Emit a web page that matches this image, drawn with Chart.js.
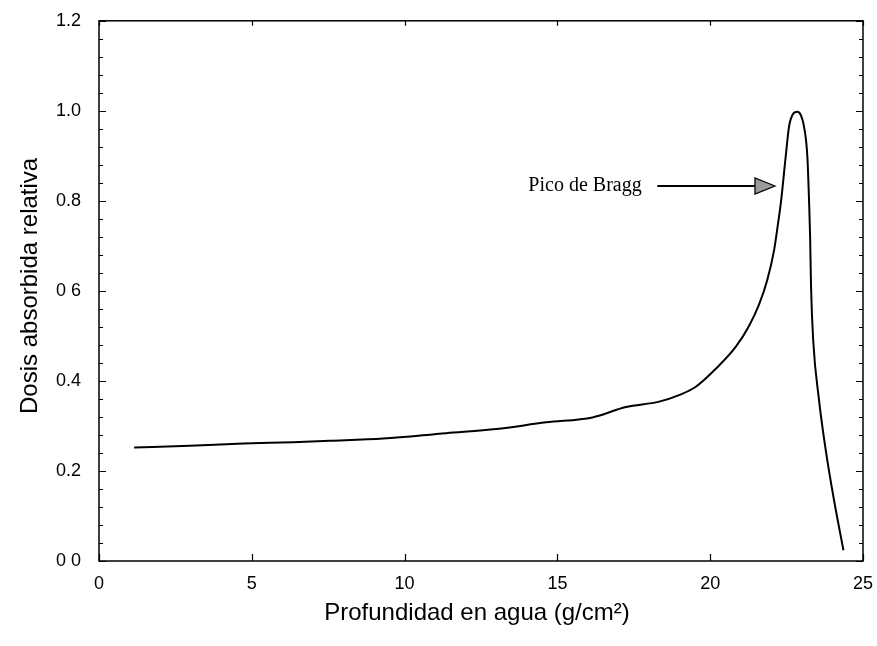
<!DOCTYPE html>
<html>
<head>
<meta charset="utf-8">
<script src="https://cdn.jsdelivr.net/npm/chart.js@4/dist/chart.umd.min.js"></script>
<style>
html,body{margin:0;padding:0;background:#fff;}
#wrap{width:877px;height:646px;position:relative;}
</style>
</head>
<body>
<div id="wrap"><canvas id="c" width="877" height="646"></canvas></div>
<script>
// ---- data ----
const depth = [1.15, 2.97, 4.72, 6.35, 7.55, 9.3, 11.36, 13.0, 14.63, 16.15, 17.24, 18.33, 19.0, 19.53, 20.2, 20.84, 21.27, 21.6, 21.87, 22.09, 22.2, 22.32, 22.47, 22.58, 22.7, 22.85, 22.97, 23.07, 23.18, 23.24, 23.27, 23.30, 23.37, 23.56, 23.78, 24.05, 24.36];
const dose  = [0.252, 0.256, 0.261, 0.264, 0.267, 0.272, 0.284, 0.293, 0.308, 0.319, 0.342, 0.354, 0.369, 0.387, 0.428, 0.476, 0.522, 0.570, 0.625, 0.690, 0.740, 0.800, 0.898, 0.965, 0.992, 0.998, 0.990, 0.965, 0.898, 0.790, 0.720, 0.609, 0.491, 0.358, 0.247, 0.136, 0.024];
const yTickLabels = ["0 0", "0.2", "0.4", "0 6", "0.8", "1.0", "1.2"];
const xTickLabels = ["0", "5", "10", "15", "20", "25"];
const xTitle = "Profundidad en agua (g/cm²)";
const yTitle = "Dosis absorbida relativa";
const annText = "Pico de Bragg";
const annTextPos = [14.05, 0.833];   // data coords of text left / middle
const annArrow = [18.27, 22.12, 0.833]; // x start, x end, y

const points = depth.map((d, i) => ({x: d, y: dose[i]}));

const frame = {
  id: 'frame',
  afterDraw(chart) {
    const ctx = chart.ctx;
    const xs = chart.scales.x, ys = chart.scales.y;
    const a = chart.chartArea;
    ctx.save();
    ctx.strokeStyle = '#000';
    ctx.lineWidth = 1.5;
    ctx.strokeRect(a.left, a.top, a.right - a.left, a.bottom - a.top);
    ctx.lineWidth = 1.2;
    // y ticks (major every 0.2, minor every 0.04)
    for (let k = 0; k <= 30; k++) {
      const v = k * 0.04;
      const py = Math.round(ys.getPixelForValue(v)) + 0.5;
      const len = (k % 5 === 0) ? 7 : 4;
      ctx.beginPath();
      ctx.moveTo(a.left, py); ctx.lineTo(a.left + len, py);
      ctx.moveTo(a.right, py); ctx.lineTo(a.right - len, py);
      ctx.stroke();
    }
    // x ticks (major every 5)
    for (let k = 0; k <= 25; k += 5) {
      const px = Math.round(xs.getPixelForValue(k)) + 0.5;
      ctx.beginPath();
      ctx.moveTo(px, a.bottom); ctx.lineTo(px, a.bottom - 7);
      ctx.moveTo(px, a.top); ctx.lineTo(px, a.top + 5);
      ctx.stroke();
    }
    // axis titles
    ctx.fillStyle = '#000';
    ctx.font = '24px "Liberation Sans", Arial, sans-serif';
    ctx.textAlign = 'center';
    ctx.textBaseline = 'middle';
    ctx.fillText(xTitle, (a.left + a.right) / 2 - 4, 613);
    ctx.save();
    ctx.translate(30, (a.top + a.bottom) / 2 - 5);
    ctx.rotate(-Math.PI / 2);
    ctx.fillText(yTitle, 0, 0);
    ctx.restore();
    // annotation
    ctx.font = '20px "Liberation Serif", "Times New Roman", serif';
    ctx.textAlign = 'left';
    ctx.fillText(annText, xs.getPixelForValue(annTextPos[0]), ys.getPixelForValue(annTextPos[1]));
    const ay = ys.getPixelForValue(annArrow[2]);
    const x0 = xs.getPixelForValue(annArrow[0]);
    const x1 = xs.getPixelForValue(annArrow[1]);
    ctx.lineWidth = 2;
    ctx.beginPath();
    ctx.moveTo(x0, ay); ctx.lineTo(x1 - 18, ay);
    ctx.stroke();
    ctx.beginPath();
    ctx.moveTo(x1, ay);
    ctx.lineTo(x1 - 20, ay - 8);
    ctx.lineTo(x1 - 20, ay + 8);
    ctx.closePath();
    ctx.fillStyle = '#9a9a9a';
    ctx.fill();
    ctx.lineWidth = 1.3;
    ctx.stroke();
    ctx.restore();
  }
};

new Chart(document.getElementById('c'), {
  type: 'line',
  data: {
    datasets: [{
      data: points,
      borderColor: '#000',
      borderWidth: 2,
      pointRadius: 0,
      fill: false,
      cubicInterpolationMode: 'monotone'
    }]
  },
  options: {
    responsive: false,
    animation: false,
    devicePixelRatio: 1,
    layout: {padding: {top: 18, right: 11, left: 0, bottom: 0}},
    plugins: {legend: {display: false}, tooltip: {enabled: false}},
    scales: {
      x: {
        type: 'linear', min: 0, max: 25,
        grid: {display: false},
        border: {display: false},
        ticks: {
          stepSize: 5, color: '#000', padding: 4,
          font: {family: '"Liberation Sans", Arial, sans-serif', size: 18},
          callback: (v) => { const i = Math.round(v / 5); return xTickLabels[i] ?? ''; }
        },
        afterFit: (s) => { s.height = 85; }
      },
      y: {
        type: 'linear', min: 0, max: 1.2,
        grid: {display: false},
        border: {display: false},
        ticks: {
          stepSize: 0.2, color: '#000', padding: 10,
          font: {family: '"Liberation Sans", Arial, sans-serif', size: 18},
          callback: (v) => { const i = Math.round(v / 0.2); return yTickLabels[i] ?? ''; }
        },
        afterFit: (s) => { s.width = 99; }
      }
    }
  },
  plugins: [frame]
});
</script>
</body>
</html>
